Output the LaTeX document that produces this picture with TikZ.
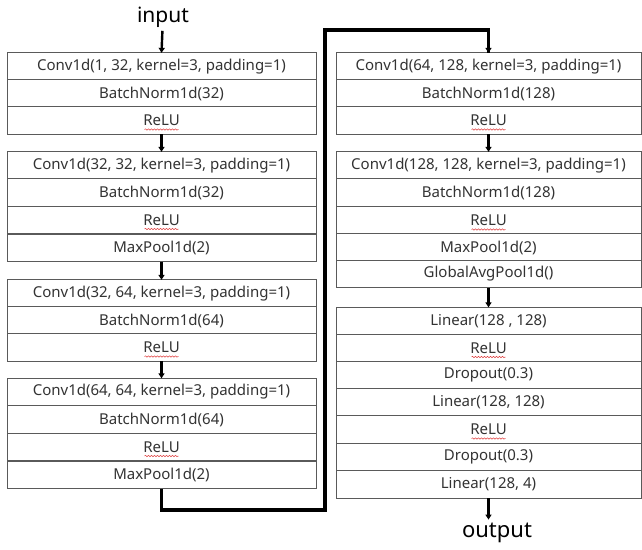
\documentclass[tikz,border=0pt]{standalone}
\usepackage{fontspec}
\setmainfont{Noto Sans}
\usetikzlibrary{arrows.meta,positioning,calc,decorations.pathmorphing}
\definecolor{ink}{HTML}{333333}
\definecolor{rule}{HTML}{5A5A5A}
\definecolor{spell}{HTML}{E04040}
\tikzset{layer/.style={draw=rule,line width=.8pt,fill=white,minimum height=27.3pt,inner sep=0pt,outer sep=0pt,text=ink,font=\fontsize{15}{17}\selectfont},
lcol/.style={layer,minimum width=309pt},rcol/.style={layer,minimum width=305pt},
flow/.style={-{Triangle[length=5pt,width=6pt]},line width=2.4pt},
link/.style={line width=3.5pt},
squig/.style={spell,line width=.5pt,decorate,decoration={snake,amplitude=.7pt,segment length=3pt}}}
\begin{document}
\begin{tikzpicture}[x=1pt,y=-1pt]
\useasboundingbox (0,0) rectangle (642,549);
\node[text=black,font=\fontsize{21}{24}\selectfont](in) at (163,17){input};
% left column
\foreach \n/\y/\t in {a1/66.5/{Conv1d(1, 32, kernel=3, padding=1)},a2/93.5/{BatchNorm1d(32)},a3/120.5/{ReLU},
a4/165.5/{Conv1d(32, 32, kernel=3, padding=1)},a5/192.5/{BatchNorm1d(32)},a6/220/{ReLU},a7/248/{MaxPool1d(2)},
a8/293.5/{Conv1d(32, 64, kernel=3, padding=1)},a9/320.5/{BatchNorm1d(64)},a10/347.5/{ReLU},
a11/392/{Conv1d(64, 64, kernel=3, padding=1)},a12/419.5/{BatchNorm1d(64)},a13/447/{ReLU},a14/475/{MaxPool1d(2)}}{\node[lcol](\n)at(161.5,\y){\t};}
% right column
\foreach \n/\y/\t in {b1/66.5/{Conv1d(64, 128, kernel=3, padding=1)},b2/93.5/{BatchNorm1d(128)},b3/120.5/{ReLU},
b4/165.5/{Conv1d(128, 128, kernel=3, padding=1)},b5/192.5/{BatchNorm1d(128)},b6/220.5/{ReLU},b7/247.5/{MaxPool1d(2)},b8/274/{GlobalAvgPool1d()},
b9/321/{Linear(128 , 128)},b10/348/{ReLU},b11/375/{Dropout(0.3)},b12/402/{Linear(128, 128)},b13/429.5/{ReLU},b14/457/{Dropout(0.3)},b15/484.5/{Linear(128, 4)}}{\node[rcol](\n)at(488.5,\y){\t};}
\node[text=black,font=\fontsize{22}{25}\selectfont](out) at (497,533){output};
\foreach \n in {a3,a6,a10,a13,b3,b6,b10,b13}{\draw[squig]([xshift=-17pt,yshift=-9pt]\n.center)--++(34,0);}
\draw[flow](in)--(a1.north);
\foreach \a/\b in {a3/a4,a7/a8,a10/a11,b3/b4,b8/b9}{\draw[flow](\a.south)--(\b.north);}
\draw[flow](b15.south)--(b15.south|-out.north);
\coordinate(lo) at (325,510);
\coordinate(hi) at (325,30);
\draw[link](a14.south)|-(lo)--(hi)-|(b1.north);
\draw[flow,line width=3.5pt]($(b1.north)+(0,-10)$)--(b1.north);
\end{tikzpicture}
\end{document}
